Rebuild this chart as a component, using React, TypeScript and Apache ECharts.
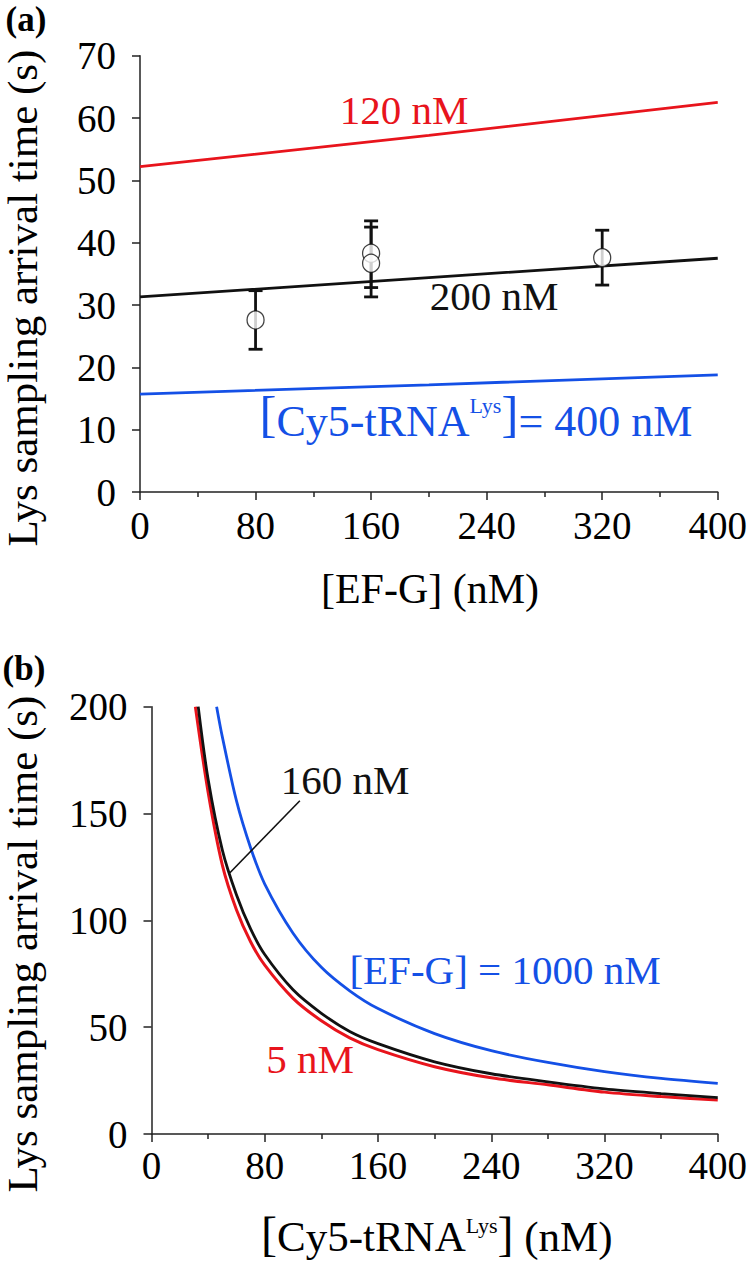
import React, { useEffect, useRef } from "react";
import * as echarts from "echarts";

const FONT = "'Liberation Serif', 'Times New Roman', Times, serif";
const RED = "#e8141c";
const BLUE = "#1450e6";
const INK = "#111111";

// ---------- Panel (a): arrival time vs [EF-G] ----------
const aXTicks = [0, 80, 160, 240, 320, 400];
const aYTicks = [0, 10, 20, 30, 40, 50, 60, 70];
const aRed = [[0, 52.2], [200, 57.2], [400, 62.5]];
const aBlack = [[0, 31.3], [200, 34.4], [400, 37.5]];
const aBlue = [[0, 15.7], [200, 17.2], [400, 18.8]];
const aPointX = [80, 160, 160, 320];
const aPointY = [27.6, 38.3, 36.7, 37.6];
const aErrLow = [22.9, 32.8, 31.3, 33.2];
const aErrHigh = [32.3, 43.5, 42.5, 42.0];

// ---------- Panel (b): arrival time vs [Cy5-tRNA] ----------
const bXTicks = [0, 80, 160, 240, 320, 400];
const bYTicks = [0, 50, 100, 150, 200];
const bRed = [[31, 200], [40, 160], [50, 126], [60, 105], [70, 90], [80, 79], [100, 63.5], [120, 53], [140, 45], [160, 39.5], [200, 31.5], [240, 26.3], [280, 23], [320, 19.6], [360, 17.5], [400, 15.9]];
const bBlack = [[33, 200], [40, 166], [50, 133], [60, 112], [70, 96], [80, 84], [100, 67.5], [120, 56.5], [140, 48], [160, 42.3], [200, 33.8], [240, 28.2], [280, 24.4], [320, 21.1], [360, 18.9], [400, 17]];
const bBlue = [[46, 200], [50, 186], [60, 156], [70, 134], [80, 117], [100, 94], [120, 78], [140, 67], [160, 58.7], [200, 47], [240, 39], [280, 33.5], [320, 29.2], [360, 26], [400, 23.7]];
const bLeader = [[104.8, 156.0], [55.4, 122.3]];

function axisCommon(min: number, max: number, interval: number, minor: boolean, margin: number) {
  return {
    min,
    max,
    interval,
    axisLine: { show: true, onZero: false, lineStyle: { color: "#222", width: 1.5 } },
    axisTick: { show: true, length: 8, lineStyle: { color: "#222", width: 1.5 } },
    minorTick: { show: minor, splitNumber: 2, length: 5, lineStyle: { color: "#222", width: 1.5 } },
    splitLine: { show: false },
    axisLabel: { fontFamily: FONT, fontSize: 39, color: "#000", margin },
  };
}

export default function App() {
  const ref = useRef<HTMLDivElement>(null);
  useEffect(() => {
    document.body.style.margin = "0";
    const chart = echarts.init(ref.current as HTMLDivElement, null, { renderer: "svg" });
    const label = (text: string, x: number, y: number, fill: string, size = 41, weight = "normal") => ({
      type: "text",
      x,
      y,
      silent: true,
      style: {
        text,
        fill,
        fontFamily: FONT,
        fontSize: size,
        fontWeight: weight,
        align: "center",
        verticalAlign: "middle",
        textAlign: "center",
        textVerticalAlign: "middle",
      },
    });
    const richLabel = (text: string, x: number, y: number, fill: string, size: number, brSize: number, brPad: number, supPad: number) => ({
      type: "text",
      x,
      y,
      silent: true,
      style: {
        text,
        fill,
        fontFamily: FONT,
        fontSize: size,
        align: "left",
        verticalAlign: "middle",
        textAlign: "left",
        textVerticalAlign: "middle",
        rich: {
          br: { fontSize: brSize, fontFamily: FONT, fill, lineHeight: brSize, padding: [0, 0, brPad, 0] },
          t: { fontSize: size, fontFamily: FONT, fill, lineHeight: size },
          sup: { fontSize: 22, fontFamily: FONT, fill, lineHeight: 22, padding: [0, 0, supPad, 0] },
        },
      },
    });

    const option: any = {
      animation: false,
      backgroundColor: "#ffffff",
      grid: [
        { left: 140, top: 55.7, width: 579, height: 436.3, containLabel: false },
        { left: 151.5, top: 706.7, width: 567, height: 427.3, containLabel: false },
      ],
      xAxis: [
        { type: "value", gridIndex: 0, ...axisCommon(aXTicks[0], aXTicks[aXTicks.length - 1], aXTicks[1] - aXTicks[0], true, 14) },
        { type: "value", gridIndex: 1, ...axisCommon(bXTicks[0], bXTicks[bXTicks.length - 1], bXTicks[1] - bXTicks[0], true, 12) },
      ],
      yAxis: [
        { type: "value", gridIndex: 0, ...axisCommon(aYTicks[0], aYTicks[aYTicks.length - 1], aYTicks[1] - aYTicks[0], false, 24) },
        { type: "value", gridIndex: 1, ...axisCommon(bYTicks[0], bYTicks[bYTicks.length - 1], bYTicks[1] - bYTicks[0], false, 24) },
      ],
      series: [
        { type: "line", xAxisIndex: 0, yAxisIndex: 0, data: aRed, showSymbol: false, lineStyle: { color: RED, width: 2.8 }, itemStyle: { color: RED } },
        { type: "line", xAxisIndex: 0, yAxisIndex: 0, data: aBlack, showSymbol: false, lineStyle: { color: INK, width: 2.8 }, itemStyle: { color: INK } },
        { type: "line", xAxisIndex: 0, yAxisIndex: 0, data: aBlue, showSymbol: false, lineStyle: { color: BLUE, width: 2.8 }, itemStyle: { color: BLUE } },
        {
          type: "custom",
          xAxisIndex: 0,
          yAxisIndex: 0,
          data: aPointX.map((x, i) => [x, aErrLow[i], aErrHigh[i]]),
          encode: { x: 0, y: [1, 2] },
          z: 4,
          renderItem: (params: any, api: any) => {
            const x = api.value(0);
            const lo = api.coord([x, api.value(1)]);
            const hi = api.coord([x, api.value(2)]);
            const hw = 7;
            const st = { stroke: INK, lineWidth: 2.8 };
            return {
              type: "group",
              children: [
                { type: "line", shape: { x1: lo[0], y1: lo[1], x2: hi[0], y2: hi[1] }, style: st },
                { type: "line", shape: { x1: lo[0] - hw, y1: lo[1], x2: lo[0] + hw, y2: lo[1] }, style: st },
                { type: "line", shape: { x1: hi[0] - hw, y1: hi[1], x2: hi[0] + hw, y2: hi[1] }, style: st },
              ],
            };
          },
        },
        {
          type: "scatter",
          xAxisIndex: 0,
          yAxisIndex: 0,
          data: aPointX.map((x, i) => [x, aPointY[i]]),
          symbol: "circle",
          symbolSize: [17, 18],
          z: 5,
          itemStyle: { color: "#ffffff", borderColor: INK, borderWidth: 1.3 },
        },
        { type: "line", xAxisIndex: 1, yAxisIndex: 1, data: bBlue, smooth: 0.3, showSymbol: false, lineStyle: { color: BLUE, width: 2.8 }, itemStyle: { color: BLUE } },
        { type: "line", xAxisIndex: 1, yAxisIndex: 1, data: bRed, smooth: 0.3, showSymbol: false, lineStyle: { color: RED, width: 3 }, itemStyle: { color: RED } },
        {
          type: "line",
          xAxisIndex: 1,
          yAxisIndex: 1,
          data: bBlack,
          smooth: 0.3,
          showSymbol: false,
          lineStyle: { color: INK, width: 2.8 },
          itemStyle: { color: INK },
          markLine: {
            silent: true,
            symbol: ["none", "none"],
            label: { show: false },
            lineStyle: { color: INK, width: 1.6, type: "solid" },
            data: [[{ coord: bLeader[0] }, { coord: bLeader[1] }]],
          },
        },
      ],
      graphic: [
        label("(a)", 26, 19, "#000", 35, "bold"),
        label("(b)", 24, 668, "#000", 35, "bold"),
        { ...label("Lys sampling arrival time (s)", 22, 298, "#000", 43), rotation: Math.PI / 2 },
        { ...label("Lys sampling arrival time (s)", 22, 944, "#000", 43), rotation: Math.PI / 2 },
        label("[EF-G] (nM)", 430, 589, "#000", 42),
        label("120 nM", 404, 110, RED, 41),
        label("200 nM", 494, 296, INK, 41),
        richLabel("{br|[}{t|Cy5-tRNA}{sup|Lys}{br|]}{t|= 400 nM}", 259.5, 421, BLUE, 44, 51, 14, 32),
        label("160 nM", 345, 780, INK, 41),
        label("[EF-G] = 1000 nM", 505, 970, BLUE, 41),
        label("5 nM", 310, 1059, RED, 41),
        richLabel("{br|[}{t|Cy5-tRNA}{sup|Lys}{br|]}{t| (nM)}", 261, 1236, "#000", 43, 48, 6, 22),
      ],
    };
    chart.setOption(option);
    return () => chart.dispose();
  }, []);
  return <div ref={ref} style={{ width: 750, height: 1261 }} />;
}
